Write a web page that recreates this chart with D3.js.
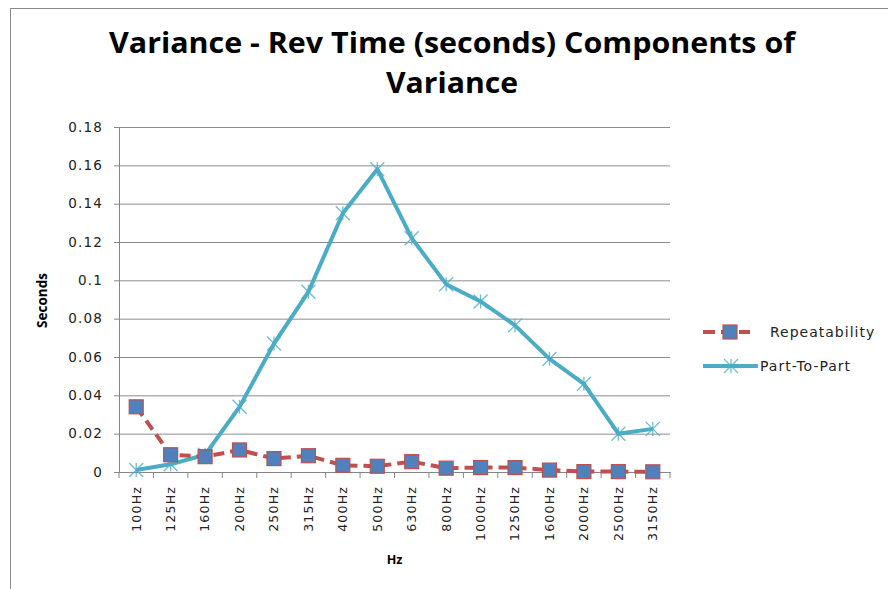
<html>
  <head>
    <style>
      body { margin: 0; background: #fff; }
      svg text { font-family: "DejaVu Sans", Verdana, sans-serif; }
      .axis .domain { stroke: #868686; }
      .axis line { stroke: #868686; }
      .axis text { fill: #222; font-size: 13.5px; letter-spacing: 1.2px; }
      .grid line { stroke: #8c8c8c; }
      .grid .domain { display: none; }
    </style>
  </head>
  <body>
    <div id="container"></div>
    <script src="https://cdnjs.cloudflare.com/ajax/libs/d3/7.8.5/d3.min.js"></script>
    <script>

    var categories = ["100Hz", "125Hz", "160Hz", "200Hz", "250Hz", "315Hz", "400Hz", "500Hz",
                      "630Hz", "800Hz", "1000Hz", "1250Hz", "1600Hz", "2000Hz", "2500Hz", "3150Hz"];
    var repeatability = [0.034, 0.009, 0.008, 0.0115, 0.007, 0.0085, 0.0035, 0.003,
                         0.0054, 0.002, 0.0023, 0.0023, 0.001, 0.0002, 0.0002, 0.0001];
    var partToPart = [0.001, 0.004, 0.009, 0.034, 0.067, 0.094, 0.135, 0.158,
                      0.122, 0.098, 0.089, 0.0765, 0.059, 0.046, 0.020, 0.0225];
    var yTicks = [0, 0.02, 0.04, 0.06, 0.08, 0.1, 0.12, 0.14, 0.16, 0.18];

    var W = 888, H = 589;
    var margin = {top: 127, right: 218, bottom: 117, left: 119},
        width = W - margin.left - margin.right,
        height = H - margin.top - margin.bottom;

    var red = "#c0504d", blue = "#4f81bd", cyan = "#4bacc6";

    var svg = d3.select("#container").append("svg")
        .attr("width", W)
        .attr("height", H);

    // chart frame
    svg.append("rect")
        .attr("x", 10.5).attr("y", 8.5)
        .attr("width", W + 10).attr("height", H + 10)
        .attr("fill", "#fff")
        .attr("stroke", "#8a8a8a");

    svg.append("text")
        .attr("x", 452).attr("y", 53)
        .attr("text-anchor", "middle")
        .attr("font-size", 28).attr("font-weight", "bold")
        .style("font-family", "'Open Sans', sans-serif")
        .attr("textLength", 686).attr("lengthAdjust", "spacingAndGlyphs")
        .text("Variance - Rev Time (seconds) Components of");
    svg.append("text")
        .attr("x", 452).attr("y", 93)
        .attr("text-anchor", "middle")
        .attr("font-size", 28).attr("font-weight", "bold")
        .style("font-family", "'Open Sans', sans-serif")
        .attr("textLength", 132).attr("lengthAdjust", "spacingAndGlyphs")
        .text("Variance");

    var g = svg.append("g").attr("transform", "translate(" + margin.left + "," + margin.top + ")");

    var x = d3.scaleBand().domain(categories).range([0, width]);
    var y = d3.scaleLinear().domain([0, 0.18]).range([height, 0]);
    var cx = function(i) { return x(categories[i]) + x.bandwidth() / 2; };

    g.append("g")
        .attr("class", "grid")
        .call(d3.axisLeft(y).tickValues(yTicks.slice(1)).tickSize(-width).tickFormat(""));

    g.append("g")
        .attr("class", "axis")
        .call(d3.axisLeft(y).tickValues(yTicks).tickSizeOuter(0).tickSize(5).tickPadding(11)
            .tickFormat(function(d) { return d3.format("")(+d.toFixed(2)); }));

    var xAxis = g.append("g")
        .attr("class", "axis")
        .attr("transform", "translate(0," + height + ")")
        .call(d3.axisBottom(x).tickSizeOuter(0).tickSize(0));
    xAxis.selectAll(".tick text")
        .attr("transform", "rotate(-90)")
        .attr("text-anchor", "end")
        .attr("x", -14).attr("y", 0).attr("dy", "0.35em")
        .style("font-size", "12.5px")
        .style("letter-spacing", "1.2px");
    // tick marks on band edges
    xAxis.selectAll(".edge")
        .data(d3.range(categories.length + 1))
        .enter().append("line")
        .attr("x1", function(i) { return i * x.step(); })
        .attr("x2", function(i) { return i * x.step(); })
        .attr("y1", 0).attr("y2", 6)
        .attr("stroke", "#868686");

    g.append("text")
        .attr("transform", "translate(-72," + (height / 2 + 1) + ") rotate(-90)")
        .attr("text-anchor", "middle")
        .attr("font-size", 13.5).attr("font-weight", "bold")
        .style("font-family", "'Open Sans', sans-serif")
        .text("Seconds");
    g.append("text")
        .attr("x", width / 2).attr("y", 436 - margin.top + 128)
        .attr("text-anchor", "middle")
        .attr("font-size", 12.5).attr("font-weight", "bold")
        .style("font-family", "'Open Sans', sans-serif")
        .text("Hz");

    var line = d3.line()
        .x(function(d, i) { return cx(i); })
        .y(function(d) { return y(d); });

    g.append("path")
        .datum(partToPart)
        .attr("fill", "none")
        .attr("stroke", cyan)
        .attr("stroke-width", 4)
        .attr("stroke-linejoin", "round")
        .attr("d", line);

    function star(sel, s) {
        sel.append("line").attr("x1", -s).attr("x2", s).attr("y1", -s).attr("y2", s);
        sel.append("line").attr("x1", -s).attr("x2", s).attr("y1", s).attr("y2", -s);
        sel.append("line").attr("x1", 0).attr("x2", 0).attr("y1", -s).attr("y2", s);
        sel.attr("stroke", cyan).attr("stroke-width", 1.3).attr("stroke-opacity", 0.8);
    }

    g.append("g").selectAll("g")
        .data(partToPart)
        .enter().append("g")
        .attr("transform", function(d, i) { return "translate(" + cx(i) + "," + y(d) + ")"; })
        .each(function() { star(d3.select(this), 7); });

    g.append("path")
        .datum(repeatability)
        .attr("fill", "none")
        .attr("stroke", red)
        .attr("stroke-width", 4)
        .attr("stroke-dasharray", "11,6")
        .attr("d", line);

    g.append("g").selectAll("rect")
        .data(repeatability)
        .enter().append("rect")
        .attr("x", function(d, i) { return cx(i) - 7; })
        .attr("y", function(d) { return y(d) - 7; })
        .attr("width", 14).attr("height", 14)
        .attr("fill", blue)
        .attr("stroke", red)
        .attr("stroke-width", 1.2);

    // legend
    var legend = svg.append("g").attr("transform", "translate(703,0)");
    legend.append("line")
        .attr("x1", 0).attr("x2", 47).attr("y1", 332).attr("y2", 332)
        .attr("stroke", red).attr("stroke-width", 4).attr("stroke-dasharray", "12,6");
    legend.append("rect")
        .attr("x", 20).attr("y", 325).attr("width", 14).attr("height", 14)
        .attr("fill", blue).attr("stroke", red).attr("stroke-width", 1.2);
    legend.append("text")
        .attr("x", 67).attr("y", 337)
        .attr("font-size", 14).attr("fill", "#222")
        .style("letter-spacing", "1px")
        .text("Repeatability");
    legend.append("line")
        .attr("x1", 0).attr("x2", 55).attr("y1", 366).attr("y2", 366)
        .attr("stroke", cyan).attr("stroke-width", 4);
    legend.append("g")
        .attr("transform", "translate(28,366)")
        .each(function() { star(d3.select(this), 7); });
    legend.append("text")
        .attr("x", 57).attr("y", 371)
        .attr("font-size", 14).attr("fill", "#222")
        .style("letter-spacing", "1px")
        .text("Part-To-Part");

    </script>
  </body>
</html>
